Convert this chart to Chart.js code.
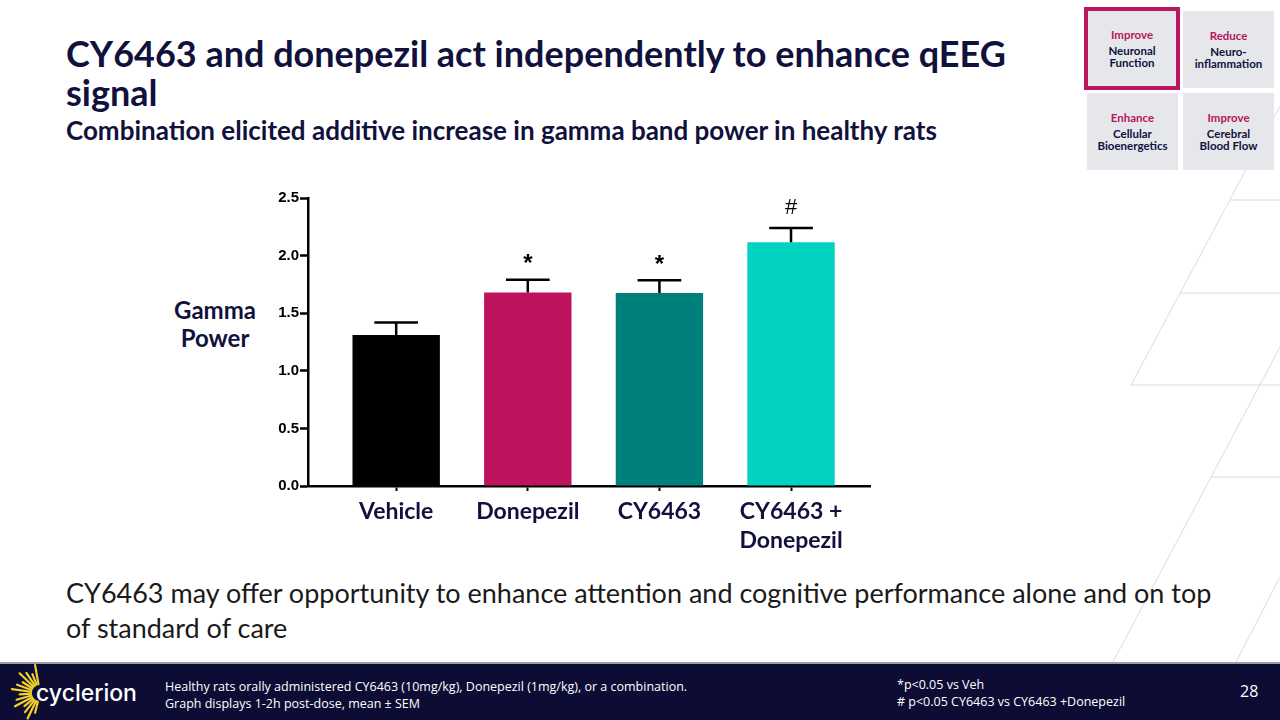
<!DOCTYPE html>
<html lang="en">
<head>
    <meta charset="UTF-8">
    <title>CY6463 and donepezil - qEEG gamma power</title>
    <script src="https://cdn.jsdelivr.net/npm/chart.js@4.4.1/dist/chart.umd.min.js"></script>
    <style>
        body { margin: 0; width: 1280px; height: 720px; position: relative; overflow: hidden; background: #fff; font-family: Lato, "Open Sans", sans-serif; }
        .abs { position: absolute; }
        #title { left: 66px; top: 34px; width: 990px; font-size: 36px; font-weight: 700; line-height: 39px; color: #11113d; }
        #subtitle { left: 66px; top: 114px; font-size: 26px; font-weight: 700; color: #11113d; white-space: nowrap; }
        .box { position: absolute; background: #e5e7eb; text-align: center; font-size: 11.5px; font-weight: 700; line-height: 12.5px; color: #11113d; box-sizing: border-box; }
        .box .hd { color: #b8165e; margin-bottom: 3px; }
        #gammaLabel { left: 160px; top: 296px; width: 110px; text-align: center; font-size: 24px; font-weight: 700; line-height: 28px; color: #11113d; }
        #chartWrap { left: 230px; top: 180px; width: 650px; height: 380px; }
        #bodyText { left: 66px; top: 575px; width: 1165px; font-size: 27px; line-height: 35px; color: #1a1a1a; }
        #footer { left: 0; top: 662px; width: 1280px; height: 58px; background: #0c0c35; border-top: 2px solid #9a9aa8; box-sizing: border-box; color: #fff; }
        .foot { position: absolute; font-family: "Open Sans", sans-serif; font-size: 12.5px; line-height: 17px; color: #fff; white-space: nowrap; }
    </style>
</head>
<body>
    <!-- background decoration lines -->
    <svg class="abs" style="left:0;top:0" width="1280" height="720">
        <g stroke="#dcdcdc" stroke-width="1" fill="none">
            <line x1="1280" y1="106" x2="1131" y2="385"/>
            <line x1="1230" y1="200" x2="1280" y2="200"/>
            <line x1="1181" y1="293" x2="1280" y2="293"/>
            <line x1="1131" y1="385" x2="1280" y2="385"/>
            <line x1="1280" y1="347" x2="1113" y2="662"/>
            <line x1="1210" y1="477" x2="1280" y2="477"/>
            <line x1="1280" y1="577" x2="1236" y2="662"/>
        </g>
    </svg>

    <div id="title" class="abs">CY6463 and donepezil act independently to enhance qEEG signal</div>
    <div id="subtitle" class="abs">Combination elicited additive increase in gamma band power in healthy rats</div>

    <div class="box" style="left:1084px;top:7px;width:96px;height:83px;border:4px solid #b8165e;padding-top:18px;">
        <div class="hd">Improve</div>Neuronal<br>Function</div>
    <div class="box" style="left:1183px;top:11px;width:91px;height:77px;padding-top:19px;">
        <div class="hd">Reduce</div>Neuro-<br>inflammation</div>
    <div class="box" style="left:1087px;top:93px;width:91px;height:77px;padding-top:19px;">
        <div class="hd">Enhance</div>Cellular<br>Bioenergetics</div>
    <div class="box" style="left:1183px;top:93px;width:91px;height:77px;padding-top:19px;">
        <div class="hd">Improve</div>Cerebral<br>Blood Flow</div>

    <div id="gammaLabel" class="abs">Gamma<br>Power</div>

    <div id="chartWrap" class="abs">
        <canvas id="gammaChart" width="650" height="380"></canvas>
    </div>

    <div id="bodyText" class="abs">CY6463 may offer opportunity to enhance attention and cognitive performance alone and on top of standard of care</div>

    <div id="footer" class="abs">
        <svg class="abs" style="left:0;top:0" width="160" height="58">
            <g stroke="#f2d22a" stroke-width="2.2" stroke-linecap="round" id="burst"></g>
            <text x="36" y="37" fill="#fff" font-family="Inter, sans-serif" font-size="23" font-weight="500">cyclerion</text>
        </svg>
        <div class="foot" style="left:165px;top:14px;">Healthy rats orally administered CY6463 (10mg/kg), Donepezil (1mg/kg), or a combination.<br>Graph displays 1-2h post-dose, mean ± SEM</div>
        <div class="foot" style="left:897px;top:12px;">*p&lt;0.05 vs Veh<br># p&lt;0.05 CY6463 vs CY6463 +Donepezil</div>
        <div class="foot" style="left:1240px;top:19px;font-size:16px;">28</div>
    </div>

    <script>
        // Data
        const categories = ['Vehicle', 'Donepezil', 'CY6463', 'CY6463 + Donepezil'];
        const gammaMean = [1.31, 1.68, 1.675, 2.115];
        const gammaSem = [0.11, 0.11, 0.11, 0.125];
        const sigMarks = ['', '*', '*', '#'];
        const yTicks = [0, 0.5, 1.0, 1.5, 2.0, 2.5];

        const barColors = ['#000000', '#bd135e', '#00807c', '#02d3c0'];
        const NAVY = '#11113d';

        // logo burst
        const burst = document.getElementById('burst');
        for (let a = 100; a <= 262; a += 12) {
            const r = a * Math.PI / 180;
            const len = 10 + ((a / 12) % 3) * 4;
            const x1 = 40 + Math.cos(r) * 9, y1 = 29 - Math.sin(r) * 9;
            const x2 = 40 + Math.cos(r) * (9 + len), y2 = 29 - Math.sin(r) * (9 + len);
            const ln = document.createElementNS('http://www.w3.org/2000/svg', 'line');
            ln.setAttribute('x1', x1); ln.setAttribute('y1', y1);
            ln.setAttribute('x2', x2); ln.setAttribute('y2', y2);
            burst.appendChild(ln);
        }

        // error bars + significance marks
        const errorBars = {
            id: 'errorBars',
            afterDatasetsDraw(chart) {
                const ctx = chart.ctx;
                const y = chart.scales.y;
                const meta = chart.getDatasetMeta(0);
                ctx.save();
                ctx.strokeStyle = '#000';
                ctx.lineWidth = 2.5;
                meta.data.forEach((bar, i) => {
                    const base = y.getPixelForValue(gammaMean[i]);
                    const top = y.getPixelForValue(gammaMean[i] + gammaSem[i]);
                    const half = bar.width / 4;
                    ctx.beginPath();
                    ctx.moveTo(bar.x, base);
                    ctx.lineTo(bar.x, top);
                    ctx.moveTo(bar.x - half, top);
                    ctx.lineTo(bar.x + half, top);
                    ctx.stroke();

                    if (sigMarks[i]) {
                        ctx.fillStyle = '#000';
                        ctx.font = sigMarks[i] === '*' ? 'bold 24px "Liberation Sans", Arial' : '22px "Liberation Sans", Arial';
                        ctx.textAlign = 'center';
                        ctx.textBaseline = 'alphabetic';
                        const m = ctx.measureText(sigMarks[i]);
                        const mid = top - 21;
                        ctx.fillText(sigMarks[i], bar.x, mid + (m.actualBoundingBoxAscent - m.actualBoundingBoxDescent) / 2);
                    }
                });
                ctx.restore();
            }
        };

        new Chart(document.getElementById('gammaChart'), {
            type: 'bar',
            data: {
                datasets: [{
                    data: gammaMean.map((v, i) => ({ x: i + 1, y: v })),
                    backgroundColor: barColors,
                    borderWidth: 0,
                    barPercentage: 0.664,
                    categoryPercentage: 1
                }]
            },
            options: {
                responsive: false,
                animation: false,
                layout: { padding: { top: 18, right: 10, left: 0, bottom: 0 } },
                plugins: { legend: { display: false }, tooltip: { enabled: false } },
                scales: {
                    x: {
                        type: 'linear',
                        min: 0.33,
                        max: 4.6,
                        offset: false,
                        afterBuildTicks: (s) => { s.ticks = categories.map((c, i) => ({ value: i + 1 })); },
                        afterFit: (s) => { s.height = 74; },
                        border: { color: '#000', width: 2.5 },
                        grid: { offset: false, drawOnChartArea: false, drawTicks: true, tickLength: 5, tickWidth: 2, tickColor: '#000' },
                        ticks: {
                            color: NAVY,
                            padding: 6,
                            font: { family: 'Lato', size: 23, weight: 'bold', lineHeight: 1.25 },
                            callback: (v) => {
                                const c = categories[v - 1];
                                return c.includes(' + ') ? [c.split(' + ')[0] + ' +', c.split(' + ')[1]] : c;
                            }
                        }
                    },
                    y: {
                        min: 0,
                        max: 2.5,
                        afterBuildTicks: (s) => { s.ticks = yTicks.map(v => ({ value: v })); },
                        afterFit: (s) => { s.width = 78; },
                        border: { color: '#000', width: 2.5 },
                        grid: { drawOnChartArea: false, drawTicks: true, tickLength: 8, tickWidth: 2.5, tickColor: '#000' },
                        ticks: {
                            color: '#000',
                            padding: 1,
                            font: { family: '"Liberation Sans", Arial', size: 15, weight: 'bold' },
                            callback: (v) => v.toFixed(1)
                        }
                    }
                }
            },
            plugins: [errorBars]
        });
    </script>
</body>
</html>
